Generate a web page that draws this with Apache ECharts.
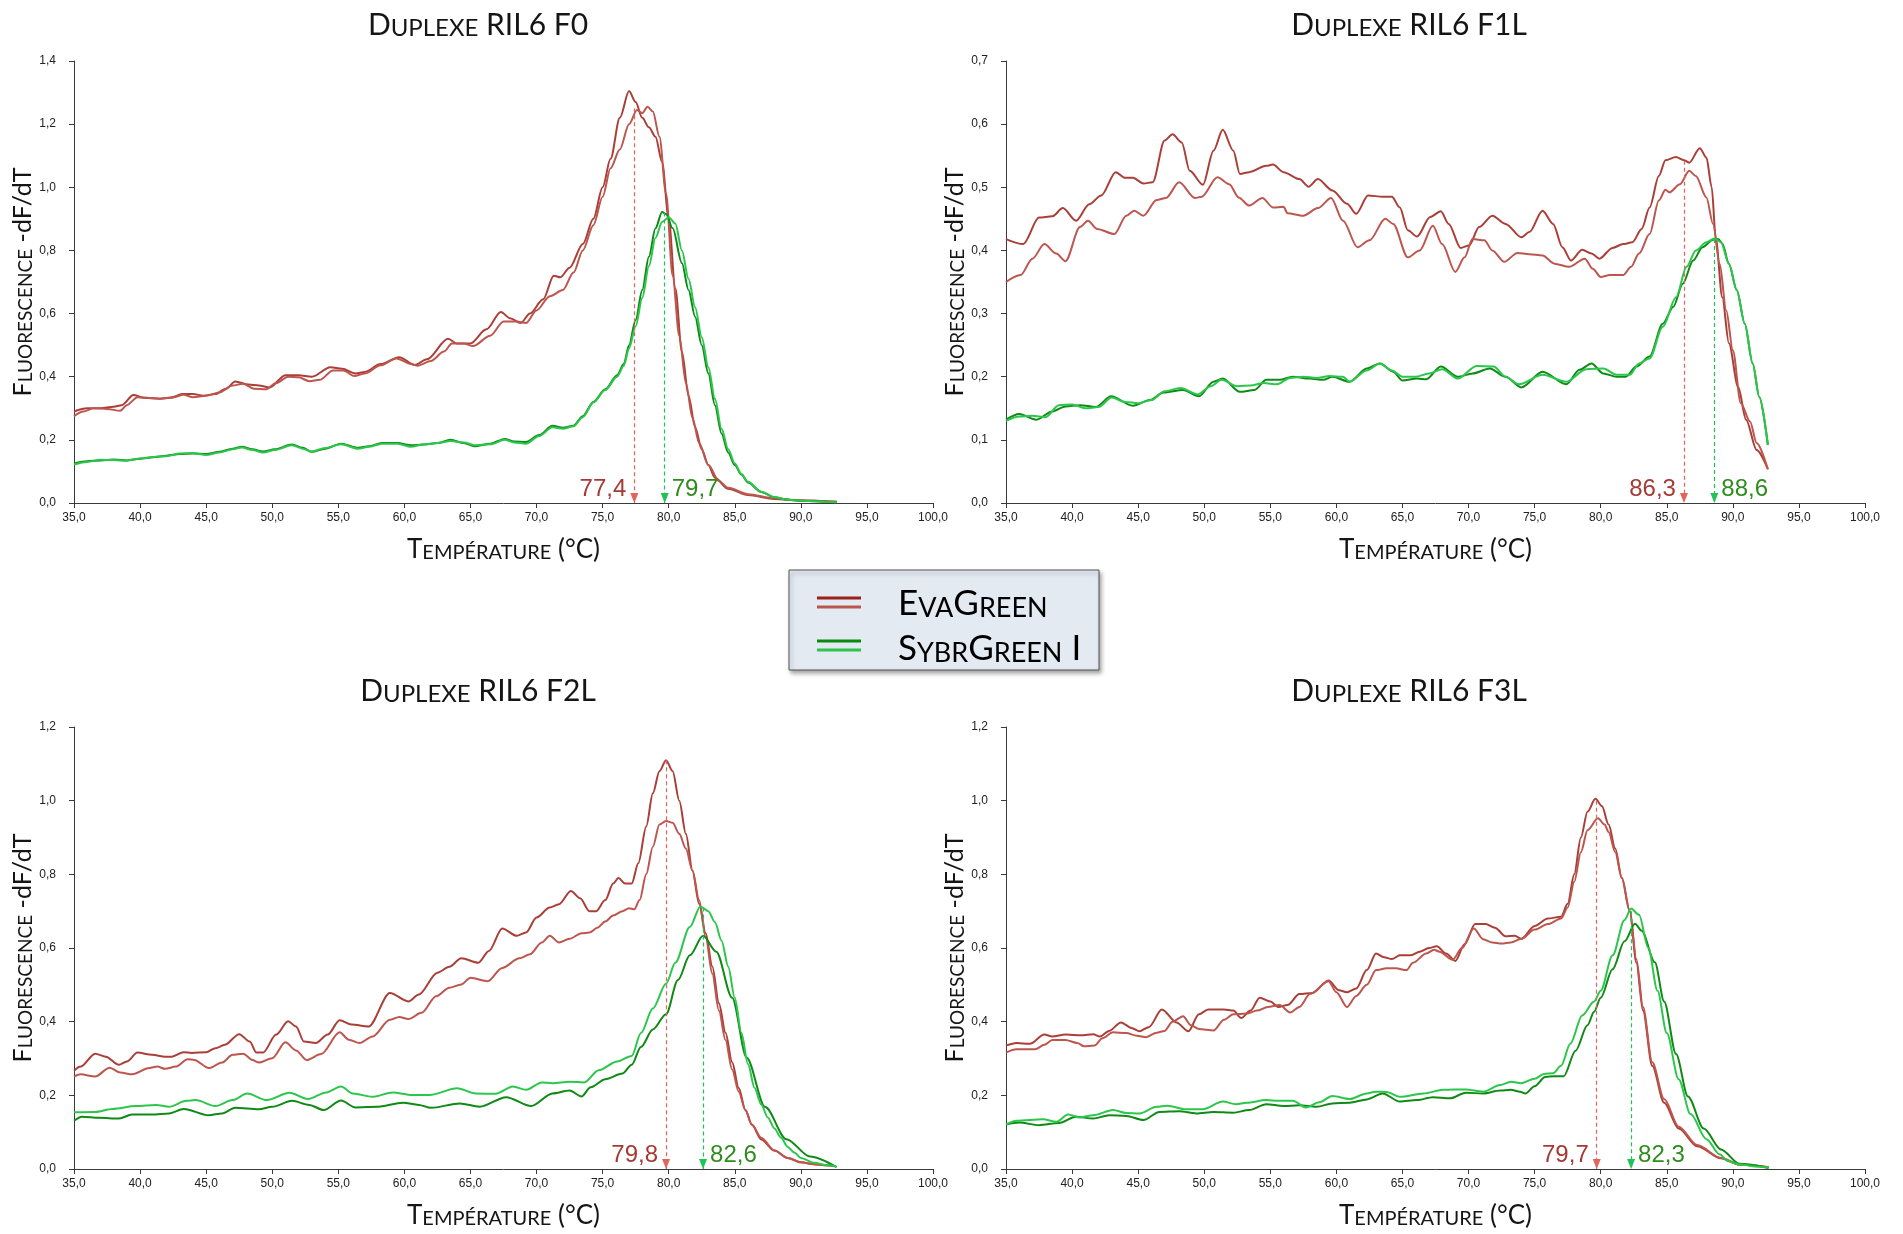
<!DOCTYPE html>
<html><head><meta charset="utf-8">
<script src="https://cdn.jsdelivr.net/npm/echarts@6/dist/echarts.min.js"></script>
<style>html,body{margin:0;padding:0;background:#fff}#c{width:1903px;height:1234px}</style>
</head><body><div id="c"></div>
<script>
// ---------- DATA (temperature °C, -dF/dT) ----------
const f0EvaA = [[35,0.29],[36,0.30],[37,0.30],[38,0.305],[38.6,0.31],[39.5,0.342],[40.3,0.333],[41.5,0.33],[42.3,0.333],[43.2,0.345],[44,0.345],[44.8,0.34],[45.7,0.345],[46.5,0.362],[47.2,0.385],[48.2,0.375],[49,0.372],[49.8,0.366],[51,0.405],[52,0.405],[53,0.40],[54.4,0.43],[55.3,0.425],[56.3,0.41],[57,0.415],[58.2,0.44],[59.6,0.462],[60.8,0.437],[61.7,0.455],[63.3,0.52],[64,0.505],[65,0.505],[66.2,0.55],[67.3,0.605],[68,0.585],[68.8,0.57],[69.5,0.60],[70.5,0.645],[71.3,0.72],[71.8,0.715],[72.5,0.745],[73.5,0.82],[74.3,0.90],[75,1.00],[75.6,1.09],[76.3,1.22],[77,1.305],[77.5,1.27],[78,1.22],[78.5,1.19],[79,1.16],[79.5,1.08],[80,0.90],[80.5,0.68],[81,0.48],[81.5,0.34],[82,0.24],[82.5,0.17],[83,0.12],[83.5,0.08],[84.5,0.045],[86,0.025],[88,0.013],[90,0.008],[92.7,0.004]];
const f0EvaB = [[35,0.275],[35.7,0.29],[36.5,0.30],[37.5,0.298],[38.5,0.292],[39,0.31],[39.8,0.335],[40.5,0.333],[41.5,0.33],[42.5,0.335],[43.3,0.343],[44,0.335],[45,0.34],[46,0.35],[47,0.372],[47.8,0.378],[48.6,0.362],[49.5,0.36],[50.3,0.38],[51.2,0.40],[52,0.398],[52.8,0.386],[53.6,0.39],[54.6,0.42],[55.4,0.42],[56.2,0.402],[57,0.41],[58.2,0.436],[59.4,0.458],[60.5,0.44],[61,0.435],[62,0.45],[63,0.48],[63.6,0.505],[64.5,0.505],[65.2,0.497],[66.5,0.53],[67.5,0.575],[68.5,0.575],[69.2,0.57],[70,0.61],[71,0.655],[72,0.675],[72.8,0.73],[73.5,0.80],[74.3,0.88],[75,0.97],[75.6,1.06],[76.3,1.12],[77,1.20],[77.6,1.245],[78,1.235],[78.4,1.255],[78.8,1.24],[79.3,1.16],[79.8,0.98],[80.3,0.72],[80.8,0.53],[81.3,0.38],[81.8,0.27],[82.3,0.19],[83,0.12],[83.8,0.07],[84.5,0.048],[86,0.028],[88,0.015],[90,0.008],[92.7,0.004]];
const f0SybrD = [[35,0.125],[36,0.132],[37,0.135],[38,0.138],[39,0.135],[40,0.14],[41,0.145],[42,0.15],[43,0.155],[44,0.157],[45,0.155],[46,0.162],[47,0.172],[47.7,0.178],[48.5,0.17],[49.3,0.163],[50.2,0.17],[51.5,0.185],[52.3,0.175],[53,0.162],[54,0.172],[55.2,0.188],[56.5,0.175],[57.3,0.18],[58.3,0.19],[59.5,0.19],[60.5,0.183],[61.5,0.185],[62.5,0.19],[63.5,0.20],[64.5,0.19],[65.3,0.18],[66.5,0.188],[67.6,0.203],[68.3,0.195],[69.2,0.193],[70.2,0.215],[71.2,0.245],[72,0.238],[72.8,0.245],[73.5,0.275],[74.3,0.32],[75.2,0.36],[76.1,0.405],[76.6,0.44],[77,0.50],[77.5,0.58],[78,0.675],[78.5,0.78],[79,0.87],[79.5,0.922],[79.8,0.915],[80.3,0.87],[81,0.76],[81.5,0.675],[82,0.59],[82.5,0.50],[83,0.41],[83.5,0.31],[84,0.22],[84.5,0.16],[85,0.12],[85.5,0.09],[86,0.065],[87,0.035],[88,0.018],[89,0.01],[90,0.007],[92.7,0.002]];
const f0SybrL = [[35,0.122],[36,0.13],[37,0.137],[38,0.136],[39,0.134],[40,0.141],[41,0.146],[42,0.148],[43,0.157],[44,0.158],[45,0.152],[46,0.16],[47,0.17],[47.7,0.176],[48.5,0.168],[49.3,0.16],[50.2,0.168],[51.5,0.183],[52.3,0.172],[53,0.163],[54,0.174],[55.2,0.186],[56.5,0.172],[57.3,0.178],[58.3,0.188],[59.5,0.188],[60.5,0.178],[61.5,0.186],[62.5,0.19],[63.5,0.196],[64.5,0.192],[65.3,0.183],[66.5,0.186],[67.6,0.2],[68.3,0.192],[69.2,0.188],[70.2,0.212],[71.2,0.24],[72,0.235],[72.8,0.243],[73.5,0.272],[74.3,0.318],[75.2,0.358],[76.1,0.4],[76.6,0.435],[77,0.49],[77.5,0.56],[78,0.65],[78.5,0.75],[79,0.84],[79.5,0.89],[80,0.905],[80.5,0.885],[81,0.80],[81.5,0.71],[82,0.62],[82.5,0.525],[83,0.43],[83.5,0.33],[84,0.235],[84.5,0.17],[85,0.125],[85.5,0.092],[86,0.067],[87,0.036],[88,0.018],[89,0.01],[90,0.007],[92.7,0.002]];

const f1EvaA = [[35,0.418],[36.3,0.41],[37.5,0.452],[38.5,0.454],[39.3,0.467],[40.3,0.447],[41.3,0.473],[42.2,0.487],[43.3,0.524],[44,0.515],[44.6,0.515],[45.4,0.506],[46.1,0.508],[47,0.574],[47.6,0.584],[48.3,0.571],[48.9,0.526],[49.9,0.504],[50.7,0.558],[51.4,0.591],[52.2,0.558],[52.7,0.521],[53.4,0.524],[54.7,0.534],[55.2,0.536],[56,0.524],[57.2,0.513],[57.9,0.501],[58.6,0.513],[59.7,0.495],[60.8,0.474],[61.5,0.458],[62.4,0.487],[63.5,0.485],[64.2,0.485],[64.8,0.468],[65.4,0.432],[66.1,0.422],[67.1,0.453],[67.9,0.462],[68.5,0.442],[69.4,0.404],[70.05,0.408],[70.8,0.437],[71.8,0.455],[72.8,0.442],[74,0.421],[74.6,0.429],[75.6,0.463],[76.4,0.442],[77.1,0.405],[77.75,0.384],[78.6,0.401],[79.3,0.395],[79.9,0.387],[80.9,0.404],[81.7,0.41],[82.4,0.413],[83.1,0.434],[83.7,0.468],[84.4,0.518],[84.9,0.543],[85.7,0.548],[86.3,0.543],[86.7,0.539],[87.5,0.562],[88,0.547],[88.4,0.5],[88.7,0.421],[89.2,0.326],[89.7,0.253],[90.4,0.184],[91,0.132],[91.8,0.084],[92.65,0.054]];
const f1EvaB = [[35,0.35],[36.1,0.361],[37,0.387],[37.9,0.41],[38.8,0.395],[39.5,0.383],[40.6,0.437],[41.2,0.447],[41.9,0.434],[43.2,0.426],[44.1,0.455],[44.7,0.463],[45.4,0.455],[46.4,0.48],[47.1,0.483],[48.1,0.508],[49.3,0.483],[49.8,0.485],[51,0.516],[51.9,0.505],[52.6,0.484],[53.4,0.471],[54.4,0.483],[55.2,0.468],[56,0.469],[56.3,0.459],[57.5,0.455],[58.6,0.467],[59.6,0.483],[60.5,0.447],[61.6,0.405],[62.5,0.416],[63.7,0.45],[64.3,0.442],[65.4,0.389],[66.3,0.4],[67.3,0.439],[68,0.41],[69,0.366],[69.7,0.389],[70.3,0.418],[71.2,0.416],[71.8,0.4],[72.7,0.382],[73.7,0.396],[74.6,0.394],[75.6,0.392],[76.5,0.379],[77.6,0.374],[78.8,0.387],[79.4,0.371],[80,0.358],[80.7,0.361],[81.7,0.361],[82.3,0.374],[82.9,0.395],[83.7,0.426],[84.4,0.479],[84.9,0.496],[85.2,0.492],[86,0.505],[86.7,0.526],[87.2,0.518],[88,0.484],[88.5,0.442],[89,0.379],[89.5,0.305],[90,0.242],[90.6,0.158],[91.3,0.129],[91.8,0.095],[92.65,0.053]];
const f1SybrD = [[35,0.132],[36,0.141],[37.3,0.132],[38.5,0.145],[39.5,0.153],[40.6,0.155],[41.8,0.152],[42.95,0.169],[44.6,0.154],[45.9,0.163],[46.9,0.175],[48.4,0.179],[49.6,0.169],[50.7,0.192],[51.4,0.197],[52.7,0.176],[53.8,0.179],[54.7,0.195],[55.7,0.195],[56.7,0.2],[58,0.197],[59,0.195],[59.7,0.2],[61,0.192],[62.3,0.213],[63.3,0.221],[64.3,0.208],[65,0.194],[66.1,0.197],[66.8,0.196],[67.9,0.216],[69.2,0.2],[70.3,0.205],[71.6,0.213],[72.8,0.2],[74,0.183],[75.6,0.208],[77.4,0.188],[78.4,0.211],[79.3,0.221],[80.2,0.205],[81.2,0.2],[81.9,0.2],[82.7,0.216],[83.7,0.232],[84.7,0.284],[85.5,0.311],[86.2,0.347],[87,0.384],[87.7,0.405],[88.5,0.417],[88.9,0.418],[89.2,0.411],[89.7,0.379],[90.3,0.337],[90.9,0.284],[91.5,0.221],[92,0.168],[92.65,0.092]];
const f1SybrL = [[35,0.13],[36,0.137],[37,0.138],[38,0.136],[39,0.155],[40,0.156],[41,0.15],[42,0.152],[43,0.167],[44,0.16],[45,0.158],[46,0.163],[47,0.177],[48.2,0.182],[49.5,0.172],[50.5,0.185],[51.3,0.195],[52.5,0.185],[53.5,0.186],[54.5,0.19],[55.5,0.188],[56.5,0.198],[57.5,0.2],[58.5,0.198],[59.5,0.201],[60.5,0.2],[61,0.192],[62.3,0.21],[63.3,0.221],[64.2,0.21],[65,0.2],[66,0.2],[67,0.205],[68,0.212],[69.2,0.197],[70.6,0.217],[71.9,0.216],[72.8,0.2],[73.8,0.188],[75.6,0.203],[77.4,0.192],[78.9,0.212],[80.2,0.213],[81.2,0.203],[82.2,0.203],[82.9,0.221],[83.7,0.229],[84.7,0.279],[85.7,0.326],[86.5,0.374],[87.2,0.4],[88,0.413],[88.6,0.419],[89.1,0.413],[89.7,0.379],[90.3,0.337],[90.9,0.284],[91.5,0.221],[92,0.168],[92.65,0.092]];

const f2EvaA = [[35,0.267],[35.5,0.278],[36.6,0.313],[37.4,0.305],[38.4,0.283],[39,0.292],[39.8,0.316],[40.9,0.31],[41.9,0.305],[42.4,0.305],[43.3,0.317],[43.9,0.315],[45,0.317],[45.7,0.328],[46.4,0.337],[47.5,0.366],[48.3,0.346],[48.8,0.316],[49.3,0.316],[50.3,0.365],[51.2,0.401],[51.8,0.387],[52.4,0.346],[53.3,0.342],[54.2,0.365],[55.1,0.404],[56,0.392],[57.3,0.387],[58.9,0.478],[60.3,0.455],[61.1,0.474],[62.5,0.533],[63.4,0.549],[64.3,0.572],[65.6,0.56],[66.4,0.592],[67.4,0.653],[68.5,0.633],[69.2,0.642],[70,0.683],[71,0.71],[71.7,0.719],[72.6,0.755],[73.3,0.735],[74,0.70],[74.5,0.70],[75.2,0.73],[75.8,0.775],[76.2,0.79],[76.7,0.775],[77.2,0.775],[77.7,0.83],[78.3,0.93],[78.8,1.02],[79.3,1.08],[79.8,1.11],[80.3,1.08],[80.8,1.0],[81.3,0.91],[81.8,0.81],[82.3,0.72],[82.8,0.64],[83.3,0.55],[83.8,0.45],[84.3,0.37],[84.8,0.29],[85.3,0.22],[85.8,0.16],[86.3,0.12],[87,0.08],[88,0.05],[89,0.03],[90,0.018],[91,0.013],[92,0.01],[92.5,0.008]];
const f2EvaB = [[35,0.251],[35.5,0.257],[36.6,0.251],[37.7,0.275],[38.5,0.262],[39.4,0.257],[40.7,0.274],[41.3,0.278],[41.9,0.272],[42.7,0.278],[43.6,0.298],[44.1,0.296],[45.2,0.274],[46.2,0.289],[47,0.31],[47.8,0.313],[48.5,0.296],[49,0.289],[50,0.301],[51,0.344],[51.8,0.322],[52.6,0.296],[53.7,0.312],[55.1,0.371],[55.8,0.351],[56.6,0.342],[57.6,0.36],[58.9,0.405],[59.6,0.413],[60.3,0.407],[61.3,0.424],[62.4,0.469],[63.4,0.492],[64.3,0.501],[65,0.519],[66.3,0.51],[67.4,0.546],[68.7,0.572],[69.5,0.583],[70.4,0.615],[71,0.633],[71.7,0.615],[72.5,0.625],[73.4,0.64],[74,0.642],[74.6,0.655],[75.2,0.672],[75.8,0.688],[76.5,0.70],[77,0.708],[77.4,0.705],[77.8,0.73],[78.3,0.80],[78.8,0.875],[79.3,0.935],[79.8,0.945],[80.3,0.94],[80.8,0.91],[81.3,0.87],[81.8,0.81],[82.3,0.73],[82.8,0.63],[83.3,0.53],[83.8,0.43],[84.3,0.35],[84.8,0.27],[85.3,0.21],[85.8,0.16],[86.3,0.12],[87,0.085],[88,0.05],[89,0.03],[90,0.018],[91,0.013],[92,0.01],[92.5,0.008]];
const f2SybrD = [[35,0.131],[35.6,0.142],[36.9,0.139],[38.4,0.137],[39.4,0.148],[40.9,0.148],[42.2,0.151],[43.3,0.163],[45.2,0.146],[46.2,0.151],[47.2,0.166],[49,0.162],[50,0.169],[51.5,0.185],[52.8,0.174],[53.9,0.16],[55.2,0.186],[56.3,0.167],[57.9,0.169],[59.9,0.18],[61.1,0.174],[62,0.166],[64.2,0.178],[65.7,0.169],[67.7,0.195],[69.6,0.171],[71.2,0.205],[72.5,0.213],[73.4,0.197],[74.1,0.222],[75.2,0.244],[76.5,0.259],[77.2,0.283],[77.9,0.331],[78.8,0.379],[79.8,0.42],[80.7,0.513],[81.6,0.58],[82.6,0.633],[83.6,0.59],[84.8,0.465],[85.9,0.302],[87.3,0.168],[88.9,0.081],[90.7,0.034],[92.7,0.005]];
const f2SybrL = [[35,0.154],[36.6,0.155],[37.9,0.163],[39.7,0.171],[41.2,0.174],[42.2,0.169],[43.5,0.185],[44.2,0.187],[45.7,0.171],[47,0.187],[48.1,0.205],[49.6,0.187],[51.3,0.207],[52.7,0.19],[54.1,0.208],[55.2,0.224],[56.1,0.205],[57.6,0.196],[59.1,0.208],[60.6,0.201],[61.9,0.201],[64,0.219],[65.4,0.205],[66.9,0.204],[68.2,0.224],[69.2,0.215],[70.4,0.235],[71.2,0.233],[72.5,0.237],[73.6,0.235],[74.7,0.268],[76.1,0.292],[77.2,0.307],[77.9,0.369],[78.8,0.436],[79.8,0.503],[80.5,0.56],[81.6,0.657],[82.4,0.713],[83,0.70],[83.5,0.67],[84,0.62],[84.5,0.55],[85,0.465],[85.5,0.37],[86,0.285],[86.5,0.22],[87,0.175],[87.5,0.14],[88,0.11],[88.5,0.085],[89,0.06],[89.5,0.045],[90,0.03],[91,0.017],[92,0.01],[92.7,0.006]];

const f3EvaA = [[35,0.335],[35.8,0.342],[36.8,0.34],[37.9,0.365],[38.5,0.36],[39.5,0.365],[40.7,0.363],[41.6,0.366],[42.1,0.36],[42.8,0.375],[43.7,0.398],[44.5,0.383],[45.1,0.374],[45.8,0.385],[46.8,0.433],[47.9,0.398],[48.8,0.374],[49.6,0.42],[50.3,0.433],[51.5,0.433],[52.2,0.43],[52.8,0.41],[53.5,0.43],[54.2,0.465],[55,0.455],[55.6,0.44],[56.3,0.445],[57.2,0.475],[58.2,0.478],[59.4,0.512],[60.2,0.485],[60.8,0.48],[61.5,0.49],[62.3,0.54],[63,0.585],[63.6,0.575],[64.2,0.57],[64.8,0.58],[65.6,0.58],[66.3,0.59],[67,0.60],[67.6,0.605],[68.3,0.585],[69,0.565],[69.7,0.61],[70.5,0.665],[71.3,0.665],[72,0.655],[72.8,0.632],[73.5,0.633],[74,0.625],[75,0.66],[76,0.68],[77,0.685],[77.5,0.72],[78,0.80],[78.5,0.90],[79,0.97],[79.6,1.005],[80.1,0.985],[80.6,0.935],[81.1,0.87],[81.6,0.79],[82.2,0.70],[82.7,0.56],[83.2,0.43],[83.9,0.28],[84.8,0.18],[85.9,0.11],[87.3,0.062],[89.1,0.029],[90.5,0.012],[92.7,0.005]];
const f3EvaB = [[35,0.316],[35.8,0.325],[37.2,0.325],[37.9,0.337],[38.5,0.35],[39.5,0.35],[40.4,0.342],[40.9,0.333],[41.7,0.335],[42.3,0.355],[43.1,0.371],[44.1,0.369],[44.9,0.362],[45.6,0.358],[46.4,0.37],[47,0.375],[47.6,0.40],[48.4,0.415],[49,0.39],[49.6,0.38],[50.7,0.376],[51.5,0.405],[52.2,0.42],[53.2,0.422],[54,0.43],[54.8,0.44],[55.7,0.445],[56.5,0.425],[57.2,0.44],[58,0.475],[59.4,0.51],[60,0.48],[60.8,0.44],[61.5,0.47],[62.3,0.50],[63,0.54],[63.8,0.545],[64.5,0.545],[65.3,0.54],[65.8,0.56],[66.8,0.585],[67.4,0.595],[67.8,0.59],[68.8,0.568],[69.5,0.60],[70.4,0.653],[71.1,0.624],[71.8,0.615],[72.5,0.612],[73.2,0.615],[74,0.625],[75,0.65],[76,0.665],[77,0.68],[77.5,0.71],[78,0.78],[78.5,0.86],[79,0.92],[79.8,0.952],[80.3,0.935],[80.6,0.915],[81.1,0.86],[81.6,0.79],[82.2,0.70],[82.7,0.57],[83.2,0.44],[83.9,0.29],[84.8,0.19],[85.9,0.115],[87.3,0.065],[89.1,0.03],[90.5,0.012],[92.7,0.005]];
const f3SybrD = [[35,0.121],[36,0.126],[37.5,0.119],[39,0.125],[40.3,0.142],[41.6,0.137],[42.8,0.146],[44.1,0.144],[45.4,0.133],[46.6,0.155],[48.1,0.157],[49.4,0.151],[50.7,0.155],[52.2,0.153],[53.4,0.16],[54.7,0.176],[56,0.171],[57.2,0.173],[58.5,0.169],[59.7,0.178],[61,0.18],[62.3,0.189],[63.5,0.205],[64.8,0.183],[66.1,0.187],[67.3,0.195],[68.6,0.192],[69.8,0.207],[71.1,0.205],[72.4,0.213],[73.2,0.215],[73.9,0.21],[74.3,0.205],[75,0.225],[75.8,0.25],[76.5,0.252],[77.2,0.252],[78.1,0.321],[79,0.39],[79.5,0.427],[80,0.465],[80.9,0.542],[81.8,0.618],[82.6,0.666],[83.1,0.647],[84.1,0.561],[84.8,0.455],[85.7,0.312],[86.6,0.197],[87.8,0.11],[89.1,0.053],[90.5,0.014],[92.7,0.003]];
const f3SybrL = [[35,0.121],[35.8,0.131],[37.8,0.135],[38.8,0.128],[39.7,0.148],[40.6,0.14],[41.6,0.146],[43.1,0.16],[44.1,0.152],[45.1,0.151],[46.4,0.169],[47.2,0.172],[48.6,0.162],[49.9,0.162],[51.4,0.183],[52.4,0.176],[53.2,0.18],[54.7,0.187],[55.6,0.185],[56.7,0.185],[57.7,0.167],[58.7,0.181],[59.7,0.198],[61,0.19],[62.3,0.205],[63,0.21],[63.8,0.209],[64.8,0.196],[66.6,0.205],[68.1,0.215],[69.8,0.216],[71.1,0.21],[72.4,0.228],[73.2,0.237],[74,0.233],[75,0.245],[75.7,0.258],[76.4,0.26],[77,0.28],[77.7,0.34],[78.6,0.417],[79.5,0.455],[80,0.484],[80.9,0.58],[81.8,0.676],[82.3,0.707],[82.9,0.69],[83.6,0.60],[84.3,0.484],[85,0.369],[85.9,0.244],[86.8,0.149],[88,0.081],[89,0.04],[89.6,0.022],[90.5,0.012],[92,0.006],[92.7,0.004]];

// melting temperatures (Tm) and marker tops
const tmEva = [77.4, 86.3, 79.8, 79.7];
const tmSybr = [79.7, 88.6, 82.6, 82.3];
const tmEvaTop = [1.25, 0.542, 1.11, 1.0];
const tmSybrTop = [0.92, 0.418, 0.71, 0.70];

const panelTitles = ['{a|D}{b|UPLEXE}{a| RIL6 F0}', '{a|D}{b|UPLEXE}{a| RIL6 F1L}', '{a|D}{b|UPLEXE}{a| RIL6 F2L}', '{a|D}{b|UPLEXE}{a| RIL6 F3L}'];
const yMax = [1.4, 0.7, 1.2, 1.2];
const yInterval = [0.2, 0.1, 0.2, 0.2];
const evaData = [[f0EvaA, f0EvaB], [f1EvaA, f1EvaB], [f2EvaA, f2EvaB], [f3EvaA, f3EvaB]];
const sybrData = [[f0SybrD, f0SybrL], [f1SybrD, f1SybrL], [f2SybrD, f2SybrL], [f3SybrD, f3SybrL]];
const legendNames = ['EvaGreen', 'SybrGreen I'];

// ---------- STYLE ----------
const evaColors = ['#aa3f38', '#bd564e'];
const sybrColors = ['#0e8a15', '#2cc64c'];
const evaDash = '#e2645c', sybrDash = '#20c454';
const evaText = '#a53a35', sybrText = '#2e8c1c';
const FONT = 'Lato, "Open Sans", sans-serif';
const richCaps = (big, small) => ({
  a: {fontSize: big, fontFamily: FONT, fontWeight: 'normal', color: '#151515', verticalAlign: 'bottom', lineHeight: big + 4},
  b: {fontSize: small, fontFamily: FONT, fontWeight: 'normal', color: '#151515', verticalAlign: 'bottom', lineHeight: big + 4}
});
const fmt = v => v.toFixed(1).replace('.', ',');

const gLeft = [74, 1006, 74, 1006], gTop = [61, 61, 727, 727];
const titleX = [478, 1409, 478, 1409], titleY = [6, 6, 672, 672];

const grids = [], xAxes = [], yAxes = [], titles = [], series = [];
for (let i = 0; i < 4; i++) {
  grids.push({left: gLeft[i], top: gTop[i], width: 859, height: 442, containLabel: false});
  titles.push({text: panelTitles[i], left: titleX[i], top: titleY[i], textAlign: 'center', padding: 0,
    textStyle: {fontWeight: 'normal', rich: richCaps(30, 24)}});
  xAxes.push({type: 'value', gridIndex: i, min: 35, max: 100, interval: 5,
    name: '{a|T}{b|EMPÉRATURE}{a| (°C)}', nameLocation: 'middle', nameGap: 30,
    nameTextStyle: {rich: richCaps(26, 20)},
    axisLine: {show: true, onZero: false, lineStyle: {color: '#3a3a3a', width: 1}},
    axisTick: {show: true, length: 5, lineStyle: {color: '#3a3a3a'}},
    splitLine: {show: false},
    axisLabel: {formatter: fmt, fontSize: 12, margin: 9, color: '#222', fontFamily: '"Liberation Sans", Arial, sans-serif'}});
  yAxes.push({type: 'value', gridIndex: i, min: 0, max: yMax[i], interval: yInterval[i],
    name: '{a|F}{b|LUORESCENCE}{a| -dF/dT}', nameLocation: 'middle', nameRotate: 90, nameGap: 21,
    nameTextStyle: {rich: richCaps(25, 19)},
    axisLine: {show: true, lineStyle: {color: '#3a3a3a', width: 1}},
    axisTick: {show: true, length: 5, lineStyle: {color: '#3a3a3a'}},
    splitLine: {show: false},
    axisLabel: {formatter: fmt, fontSize: 12, margin: 18, color: '#222', fontFamily: '"Liberation Sans", Arial, sans-serif'}});

  const markerFor = (tm, top, lineColor, textColor, side) => ({
    markLine: {silent: true, symbol: ['none', 'none'], label: {show: false},
      lineStyle: {type: [4, 3], color: lineColor, width: 1.2},
      data: [[{coord: [tm, top]}, {coord: [tm, 0]}]]},
    markPoint: {silent: true, symbol: 'triangle', symbolSize: [8, 10], symbolRotate: 180, symbolOffset: [0, -5],
      itemStyle: {color: lineColor},
      label: {show: true, position: side, distance: side === 'left' ? 4 : 3, offset: [0, -9],
        formatter: fmt(tm), color: textColor, fontSize: 24, fontFamily: '"Liberation Sans", Arial, sans-serif'},
      data: [{coord: [tm, 0]}]}
  });

  evaData[i].forEach((d, k) => {
    const s = {name: legendNames[0], type: 'line', xAxisIndex: i, yAxisIndex: i, data: d, smooth: 0.3,
      smoothMonotone: 'x', symbol: 'none', lineStyle: {width: 2, color: evaColors[k]}, itemStyle: {color: evaColors[k]}, z: 2};
    if (k === 0) Object.assign(s, markerFor(tmEva[i], tmEvaTop[i], evaDash, evaText, 'left'));
    series.push(s);
  });
  sybrData[i].forEach((d, k) => {
    const s = {name: legendNames[1], type: 'line', xAxisIndex: i, yAxisIndex: i, data: d, smooth: 0.3,
      smoothMonotone: 'x', symbol: 'none', lineStyle: {width: 2, color: sybrColors[k]}, itemStyle: {color: sybrColors[k]}, z: 3};
    if (k === 0) Object.assign(s, markerFor(tmSybr[i], tmSybrTop[i], sybrDash, sybrText, 'right'));
    series.push(s);
  });
}

// legend box (drawn as graphic)
const legendGraphic = {type: 'group', children: [
  {type: 'rect', shape: {x: 789, y: 570, width: 310, height: 100},
    style: {fill: '#e3eaf2', stroke: '#555', lineWidth: 1, shadowBlur: 4, shadowOffsetX: 2, shadowOffsetY: 3, shadowColor: 'rgba(0,0,0,0.35)'}},
  {type: 'line', shape: {x1: 817, y1: 598, x2: 861, y2: 598}, style: {stroke: '#9c2219', lineWidth: 3}},
  {type: 'line', shape: {x1: 817, y1: 607, x2: 861, y2: 607}, style: {stroke: '#b9564d', lineWidth: 3}},
  {type: 'line', shape: {x1: 817, y1: 641, x2: 861, y2: 641}, style: {stroke: '#0a8a12', lineWidth: 3}},
  {type: 'line', shape: {x1: 817, y1: 650, x2: 861, y2: 650}, style: {stroke: '#2cc64c', lineWidth: 3}},
  {type: 'text', x: 898, y: 602, style: {text: '{a|E}{b|VA}{a|G}{b|REEN}', rich: richCaps(35, 27), verticalAlign: 'middle', align: 'left'}},
  {type: 'text', x: 898, y: 647, style: {text: '{a|S}{b|YBR}{a|G}{b|REEN}{a| I}', rich: richCaps(35, 27), verticalAlign: 'middle', align: 'left'}}
]};

const chart = echarts.init(document.getElementById('c'), null, {renderer: 'canvas'});
chart.setOption({
  animation: false,
  backgroundColor: '#ffffff',
  title: titles,
  grid: grids,
  xAxis: xAxes,
  yAxis: yAxes,
  series: series,
  graphic: [legendGraphic]
});
</script></body></html>
